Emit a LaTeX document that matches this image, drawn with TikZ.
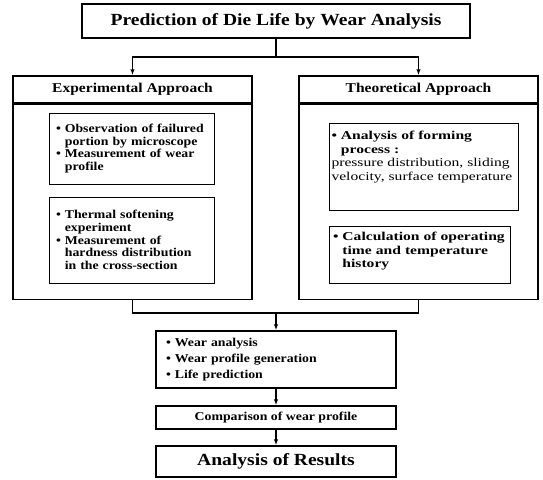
\documentclass[tikz,border=0pt]{standalone}
\usepackage{fontspec}
\setmainfont{Liberation Serif}[FakeStretch=1.15]
\newfontfamily\wideserif{Liberation Serif}[FakeStretch=1.3]
\usetikzlibrary{arrows.meta, positioning}

\newcommand{\bitem}{\textbullet\ }
\newcommand{\bskip}{\leavevmode\hphantom{\textbullet\ }}

\begin{document}
\begin{tikzpicture}[
  x=1pt, y=-1pt,
  node distance=0pt,
  box/.style={rectangle, draw, line width=1.5pt, inner sep=0pt, text centered},
  titlebox/.style={box, minimum width=388pt, minimum height=34pt, font=\fontsize{17}{20}\selectfont\bfseries},
  headbox/.style={box, minimum width=239pt, minimum height=27pt, font=\fontsize{13.5}{16}\selectfont\bfseries},
  bodybox/.style={box, minimum width=239pt, minimum height=195pt},
  itembox/.style={rectangle, draw, line width=0.8pt, align=left, inner ysep=0pt, font=\fontsize{12}{12.7}\selectfont\bfseries},
  wideitembox/.style={itembox, font=\wideserif\fontsize{12}{13.2}\selectfont\bfseries},
  stepbox/.style={box, minimum width=240pt, font=\fontsize{12}{15.8}\selectfont\bfseries},
  conn/.style={line width=1.5pt},
  arr/.style={conn, -{Latex[length=6pt,width=4.5pt]}}
]
\useasboundingbox (0,0) rectangle (543,479);

\node[titlebox] (title) at (276,21) {Prediction of Die Life by Wear Analysis};

\node[headbox] (exp) at (132.5,89.5) {Experimental Approach};
\node[bodybox, below=of exp] (expbody) {};
\node[headbox] (theo) at (418.5,89.5) {Theoretical Approach};
\node[bodybox, below=of theo] (theobody) {};

% experimental items
\node[itembox, inner xsep=7pt, text width=151pt, minimum height=71pt] (obs) at (131.5,148.5)
  {\bitem Observation of failured\\ \bskip portion by microscope\\ \bitem Measurement of wear\\ \bskip profile};
\node[itembox, inner xsep=7pt, text width=151pt, minimum height=86pt] (therm) at (131.5,240)
  {\bitem Thermal softening\\ \bskip experiment\\ \bitem Measurement of\\ \bskip hardness distribution\\ \bskip in the cross-section};

% theoretical items
\node[wideitembox, inner xsep=2.5pt, text width=184pt, minimum height=87pt] (form) at (423.5,166.5)
  {\bitem Analysis of forming\\[1.5pt] \bskip process :\\ {\mdseries pressure distribution, sliding}\\ {\mdseries velocity, surface temperature}\\[9pt] \mbox{}};
\node[wideitembox, inner xsep=4pt, text width=173pt, minimum height=57pt] (calc) at (419.5,254.5)
  {\bitem Calculation of operating\\ \bskip time and temperature\\ \bskip history\\[-4pt] \mbox{}};

\coordinate (split) at (276,57);
\coordinate (join) at (276,313);

\node[stepbox, minimum height=57pt, align=left, inner xsep=10pt, text width=220pt] (mid) at (276,359.5)
  {\bitem Wear analysis\\ \bitem Wear profile generation\\ \bitem Life prediction};
\node[stepbox, minimum height=23pt] (comp) at (276,417.5) {Comparison of wear profile};
\node[stepbox, minimum height=31pt, font=\fontsize{17}{20}\selectfont\bfseries] (res) at (276,461.5) {Analysis of Results};

\draw[conn] (title) -- (split);
\draw[arr] (split) -| (exp);
\draw[arr] (split) -| (theo);
\draw[conn] (expbody) |- (join) -| (theobody);
\draw[arr] (join) -- (mid);
\draw[arr] (mid) -- (comp);
\draw[arr] (comp) -- (res);
\end{tikzpicture}
\end{document}
